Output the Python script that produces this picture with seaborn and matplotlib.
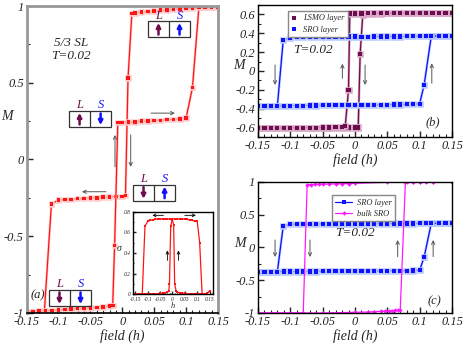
import matplotlib
matplotlib.use('Agg')
import matplotlib.pyplot as plt
import matplotlib.patheffects as pe
from matplotlib.patches import Rectangle
from matplotlib.ticker import MultipleLocator, FuncFormatter
import seaborn as sns

# -----------------------------
# Data: panel (a), total magnetisation loop
# -----------------------------
h_a_down = [0.15, 0.14, 0.13, 0.12, 0.11, 0.10, 0.09, 0.08, 0.07, 0.06, 0.05, 0.04, 0.03, 0.02, 0.015,
            0.009, 0.005, 0.0, -0.01, -0.02, -0.03, -0.04, -0.05, -0.06, -0.07, -0.08, -0.09, -0.10,
            -0.111, -0.122, -0.13, -0.14, -0.15]
m_a_down = [0.995, 0.995, 0.993, 0.99, 0.988, 0.985, 0.982, 0.978, 0.975, 0.972, 0.968, 0.965, 0.96, 0.955, 0.95,
            0.53, -0.235, -0.24, -0.24, -0.245, -0.245, -0.25, -0.25, -0.255, -0.255, -0.26, -0.26, -0.265,
            -0.29, -0.985, -0.99, -0.99, -0.99]

h_a_up = [-0.15, -0.14, -0.13, -0.12, -0.11, -0.10, -0.09, -0.08, -0.07, -0.06, -0.05, -0.04, -0.03, -0.02, -0.015,
          -0.012, -0.007, 0.0, 0.01, 0.02, 0.03, 0.04, 0.05, 0.06, 0.07, 0.08, 0.09, 0.10,
          0.11, 0.12, 0.13, 0.14, 0.15]
m_a_up = [-0.99, -0.99, -0.988, -0.985, -0.983, -0.98, -0.978, -0.975, -0.972, -0.97, -0.967, -0.963, -0.96, -0.955, -0.95,
          -0.56, 0.24, 0.24, 0.245, 0.245, 0.25, 0.25, 0.255, 0.255, 0.26, 0.26, 0.265, 0.27,
          0.47, 0.99, 0.993, 0.995, 0.995]

# inset: sigma vs h
sig_down = [0.03, 0.01, 0.005, 0.005, 0.005, 0.005, 0.005, 0.005, 0.005, 0.005, 0.01, 0.01, 0.015, 0.02, 0.03,
            0.1, 0.67, 0.72, 0.725, 0.73, 0.73, 0.73, 0.73, 0.73, 0.725, 0.72, 0.715, 0.705,
            0.66, 0.0, 0.0, 0.0, 0.0]
sig_up = [0.0, 0.0, 0.0, 0.0, 0.005, 0.005, 0.005, 0.005, 0.005, 0.005, 0.01, 0.01, 0.015, 0.02, 0.03,
          0.1, 0.66, 0.73, 0.73, 0.73, 0.73, 0.73, 0.725, 0.725, 0.72, 0.715, 0.71, 0.71,
          0.5, 0.0, 0.0, 0.01, 0.03]

# -----------------------------
# Data: panel (b), layer magnetisations
# -----------------------------
h_b_down = [0.15, 0.14, 0.13, 0.12, 0.11, 0.10, 0.09, 0.08, 0.07, 0.06, 0.05, 0.04, 0.03, 0.02, 0.012,
            0.008, 0.005, 0.0, -0.01, -0.02, -0.03, -0.04, -0.05, -0.06, -0.07, -0.08, -0.09, -0.10,
            -0.11, -0.12, -0.13, -0.14, -0.15]
lsmo_down = [0.615, 0.615, 0.615, 0.615, 0.614, 0.614, 0.613, 0.613, 0.612, 0.612, 0.611, 0.61, 0.61, 0.6, 0.59,
             0.18, -0.6, -0.6, -0.6, -0.601, -0.601, -0.602, -0.602, -0.603, -0.603, -0.604, -0.604, -0.604,
             -0.605, -0.605, -0.605, -0.605, -0.605]
h_b_up = [-0.15, -0.14, -0.13, -0.12, -0.11, -0.10, -0.09, -0.08, -0.07, -0.06, -0.05, -0.04, -0.03, -0.02, -0.015,
          -0.01, -0.008, 0.0, 0.01, 0.02, 0.03, 0.04, 0.05, 0.06, 0.07, 0.08, 0.09, 0.10,
          0.11, 0.12, 0.13, 0.14, 0.15]
lsmo_up = [-0.605, -0.605, -0.605, -0.604, -0.604, -0.603, -0.603, -0.602, -0.602, -0.601, -0.6, -0.6, -0.595, -0.59, -0.58,
           -0.2, 0.61, 0.61, 0.61, 0.612, 0.612, 0.613, 0.613, 0.614, 0.614, 0.614, 0.615, 0.615,
           0.615, 0.615, 0.615, 0.615, 0.615]

h_sro_down = [0.15, 0.14, 0.13, 0.12, 0.11, 0.10, 0.09, 0.08, 0.07, 0.06, 0.05, 0.04, 0.03, 0.02, 0.01, 0.0,
              -0.01, -0.02, -0.03, -0.04, -0.05, -0.06, -0.07, -0.08, -0.09, -0.10, -0.111, -0.12, -0.13, -0.14, -0.15]
sro_down = [0.37, 0.37, 0.37, 0.37, 0.368, 0.368, 0.367, 0.367, 0.366, 0.366, 0.365, 0.365, 0.365, 0.36, 0.36, 0.365,
            0.365, 0.36, 0.36, 0.36, 0.36, 0.358, 0.358, 0.357, 0.356, 0.355, 0.325, -0.37, -0.37, -0.37, -0.37]
h_sro_up = [-0.15, -0.14, -0.13, -0.12, -0.11, -0.10, -0.09, -0.08, -0.07, -0.06, -0.05, -0.04, -0.03, -0.02, -0.01, 0.0,
            0.01, 0.02, 0.03, 0.04, 0.05, 0.06, 0.07, 0.08, 0.09, 0.10, 0.107, 0.118, 0.13, 0.14, 0.15]
sro_up = [-0.37, -0.37, -0.37, -0.37, -0.368, -0.368, -0.367, -0.367, -0.366, -0.366, -0.365, -0.365, -0.36, -0.358, -0.358, -0.365,
          -0.365, -0.36, -0.36, -0.358, -0.358, -0.356, -0.355, -0.354, -0.352, -0.348, -0.145, 0.37, 0.37, 0.37, 0.37]

# -----------------------------
# Data: panel (c), bulk SRO
# -----------------------------
h_bulk_down = [0.15, 0.12, 0.11, 0.10, 0.09, 0.08, 0.05, 0.0, -0.01, -0.02, -0.03, -0.04, -0.05, -0.055, -0.062,
               -0.068, -0.074, -0.08, -0.15]
bulk_down = [1.0, 1.0, 1.0, 1.0, 1.0, 1.0, 0.995, 0.98, 0.975, 0.972, 0.97, 0.968, 0.965, 0.963, 0.962,
             0.96, 0.958, -1.0, -1.0]
h_bulk_up = [-0.15, -0.08, -0.05, 0.0, 0.02, 0.03, 0.04, 0.046, 0.052, 0.057, 0.062, 0.066, 0.07, 0.078, 0.09,
             0.10, 0.12, 0.15]
bulk_up = [-1.0, -1.0, -1.0, -0.99, -0.985, -0.98, -0.975, -0.97, -0.968, -0.965, -0.962, -0.958, -0.95, 1.0, 1.0,
           1.0, 1.0, 1.0]

RED = '#ff1414'
PURPLE = '#6e0d4e'
BLUE = '#1010ff'
MAGENTA = '#ff19ff'

sns.set_style("ticks")
plt.rcParams['font.family'] = ['Liberation Serif', 'DejaVu Serif']
plt.rcParams['font.style'] = 'italic'
plt.rcParams['axes.unicode_minus'] = False

fig = plt.figure(figsize=(4.63, 3.43), dpi=100)
ax_a = fig.add_axes([0.0573, 0.0875, 0.4136, 0.895])
ax_b = fig.add_axes([0.5572, 0.6006, 0.419, 0.385])
ax_c = fig.add_axes([0.5572, 0.0875, 0.419, 0.382])
ax_in = fig.add_axes([0.288, 0.142, 0.171, 0.241])

fmt = FuncFormatter(lambda v, p: ('%g' % round(v, 3)))


def style_axes(ax, xmaj, xmin, ymaj, ymin, size=9, frame='k'):
    ax.xaxis.set_major_locator(MultipleLocator(xmaj))
    ax.xaxis.set_minor_locator(MultipleLocator(xmin))
    ax.yaxis.set_major_locator(MultipleLocator(ymaj))
    ax.yaxis.set_minor_locator(MultipleLocator(ymin))
    ax.xaxis.set_major_formatter(fmt)
    ax.yaxis.set_major_formatter(fmt)
    ax.tick_params(which='both', direction='in', top=False, right=False, labelsize=size, pad=2)
    ax.tick_params(which='major', length=4, width=1)
    ax.tick_params(which='minor', length=2, width=0.8)
    for s in ax.spines.values():
        s.set_color(frame)
        s.set_linewidth(1.0)


def loop(ax, x, y, color, marker='s', ms=2.6, halo=None, label=None):
    kw = {}
    if halo:
        kw['path_effects'] = [pe.Stroke(linewidth=1.8, foreground=halo), pe.Normal()]
    sns.lineplot(x=x, y=y, ax=ax, sort=False, estimator=None, color=color, marker=marker,
                 markersize=ms, markeredgewidth=0, linewidth=0.9, label=label, legend=False, **kw)


def spin_box(ax, x0, y0, l_up, s_up, w=0.22, hgt=0.052):
    ax.add_patch(Rectangle((x0, y0), w, hgt, transform=ax.transAxes, fill=False,
                           edgecolor='#333333', lw=0.9, zorder=6))
    ax.plot([x0 + w / 2, x0 + w / 2], [y0, y0 + hgt], transform=ax.transAxes, color='#333333', lw=0.9, zorder=6)
    for i, (up, col, lab) in enumerate([(l_up, PURPLE, 'L'), (s_up, BLUE, 'S')]):
        cx = x0 + w / 4 + i * w / 2
        a, b = (y0 + 0.008, y0 + hgt - 0.006) if up else (y0 + hgt - 0.008, y0 + 0.006)
        ax.annotate('', xy=(cx, b), xytext=(cx, a), xycoords='axes fraction',
                    arrowprops=dict(arrowstyle='-|>', color=col, lw=1.8, mutation_scale=6,
                                    shrinkA=0, shrinkB=0), zorder=7)
        ax.text(cx, y0 + hgt + 0.018, lab, transform=ax.transAxes, color=col, fontsize=9,
                ha='center', va='center')


def thin_arrow(ax, x0, y0, x1, y1, lw=0.7, color='#555555', ms=6):
    ax.annotate('', xy=(x1, y1), xytext=(x0, y0), xycoords='axes fraction',
                arrowprops=dict(arrowstyle='->', color=color, lw=lw, mutation_scale=ms,
                                shrinkA=0, shrinkB=0))


# -----------------------------
# Panel (a)
# -----------------------------
loop(ax_a, h_a_down, m_a_down, RED, halo='#ffc8c8')
loop(ax_a, h_a_up, m_a_up, RED, halo='#ffc8c8')
ax_a.set_xlim(-0.15, 0.15)
ax_a.set_ylim(-1, 1)
style_axes(ax_a, 0.05, 0.01, 0.5, 0.25, frame='#999999')
for k in ['left', 'top', 'right']:
    ax_a.spines[k].set_linewidth(2)
ax_a.spines['bottom'].set_color('k')
ax_a.spines['bottom'].set_linewidth(1.2)
ax_a.set_xlabel('field (h)', fontsize=10, labelpad=1)
ax_a.set_ylabel('M', fontsize=10, rotation=0)
ax_a.yaxis.set_label_coords(-0.105, 0.62)
ax_a.text(0.232, 0.88, '5/3 SL', transform=ax_a.transAxes, fontsize=9.5, ha='center', va='center')
ax_a.text(0.232, 0.838, 'T=0.02', transform=ax_a.transAxes, fontsize=9.5, ha='center', va='center')
ax_a.text(0.06, 0.059, '(a)', transform=ax_a.transAxes, fontsize=9, ha='center', va='center')

spin_box(ax_a, 0.634, 0.899, True, True)
spin_box(ax_a, 0.222, 0.606, True, False)
spin_box(ax_a, 0.556, 0.366, False, True)
spin_box(ax_a, 0.117, 0.023, False, False)

thin_arrow(ax_a, 0.650, 0.651, 0.775, 0.651)
thin_arrow(ax_a, 0.415, 0.395, 0.289, 0.395)
thin_arrow(ax_a, 0.462, 0.476, 0.462, 0.580)
thin_arrow(ax_a, 0.544, 0.580, 0.544, 0.476)

# inset
loop(ax_in, h_a_down, sig_down, RED, ms=2.0)
loop(ax_in, h_a_up, sig_up, RED, ms=2.0)
ax_in.set_xlim(-0.158, 0.162)
ax_in.set_ylim(0, 0.8)
style_axes(ax_in, 0.05, 0.01, 0.2, 0.1, size=4)
ax_in.tick_params(which='major', length=2)
ax_in.tick_params(which='minor', length=1)
ax_in.set_xlabel('h', fontsize=6, labelpad=0)
ax_in.set_ylabel('σ', fontsize=7, rotation=0, labelpad=3)
ax_in.set_facecolor('white')
thin_arrow(ax_in, 0.38, 0.955, 0.24, 0.955, lw=0.6, color='k', ms=5)
thin_arrow(ax_in, 0.65, 0.955, 0.79, 0.955, lw=0.6, color='k', ms=5)
thin_arrow(ax_in, 0.43, 0.41, 0.43, 0.53, lw=0.6, color='k', ms=5)
thin_arrow(ax_in, 0.57, 0.41, 0.57, 0.53, lw=0.6, color='k', ms=5)

# -----------------------------
# Panel (b)
# -----------------------------
loop(ax_b, h_b_down, lsmo_down, PURPLE, ms=3.0, halo='#d8a8c8', label='LSMO layer')
loop(ax_b, h_b_up, lsmo_up, PURPLE, ms=3.0, halo='#d8a8c8')
loop(ax_b, h_sro_down, sro_down, BLUE, ms=3.0, halo='#b4c8ff', label='SRO layer')
loop(ax_b, h_sro_up, sro_up, BLUE, ms=3.0, halo='#b4c8ff')
ax_b.set_xlim(-0.15, 0.15)
ax_b.set_ylim(-0.7, 0.7)
style_axes(ax_b, 0.05, 0.01, 0.2, 0.1)
ax_b.set_xlabel('field (h)', fontsize=10, labelpad=1)
ax_b.set_ylabel('M', fontsize=10, rotation=0)
ax_b.yaxis.set_label_coords(-0.1, 0.49)
ax_b.text(0.284, 0.659, 'T=0.02', transform=ax_b.transAxes, fontsize=9.5, ha='center', va='center')
ax_b.text(0.902, 0.108, '(b)', transform=ax_b.transAxes, fontsize=9, ha='center', va='center')
hb, lb = ax_b.get_legend_handles_labels()
leg = ax_b.legend(hb, lb, loc='upper left', bbox_to_anchor=(0.135, 0.985), fontsize=6,
                  handlelength=0.6, handletextpad=0.8, borderpad=0.4, labelspacing=0.4,
                  fancybox=False, framealpha=1, edgecolor='#888888')
for line in leg.get_lines():
    line.set_linestyle('none')
    line.set_path_effects([])
thin_arrow(ax_b, 0.088, 0.545, 0.088, 0.394)
thin_arrow(ax_b, 0.435, 0.444, 0.435, 0.555)
thin_arrow(ax_b, 0.552, 0.545, 0.552, 0.394)
thin_arrow(ax_b, 0.896, 0.407, 0.896, 0.558)

# -----------------------------
# Panel (c)
# -----------------------------
loop(ax_c, h_sro_down, sro_down, BLUE, ms=3.0, halo='#b4c8ff', label='SRO layer')
loop(ax_c, h_sro_up, sro_up, BLUE, ms=3.0, halo='#b4c8ff')
loop(ax_c, h_bulk_down, bulk_down, MAGENTA, marker='D', ms=2.3, label='bulk SRO')
loop(ax_c, h_bulk_up, bulk_up, MAGENTA, marker='D', ms=2.3)
ax_c.set_xlim(-0.15, 0.15)
ax_c.set_ylim(-1, 1)
style_axes(ax_c, 0.05, 0.01, 0.5, 0.25)
ax_c.set_xlabel('field (h)', fontsize=10, labelpad=1)
ax_c.set_ylabel('M', fontsize=10, rotation=0)
ax_c.yaxis.set_label_coords(-0.093, 0.48)
ax_c.text(0.5, 0.61, 'T=0.02', transform=ax_c.transAxes, fontsize=9.5, ha='center', va='center')
ax_c.text(0.912, 0.092, '(c)', transform=ax_c.transAxes, fontsize=9, ha='center', va='center')
hc, lc = ax_c.get_legend_handles_labels()
leg = ax_c.legend(hc, lc, loc='upper left', bbox_to_anchor=(0.36, 0.93), fontsize=6,
                  handlelength=2.0, handletextpad=0.6, borderpad=0.4, labelspacing=0.4,
                  fancybox=False, framealpha=1, edgecolor='#888888')
for line in leg.get_lines():
    line.set_path_effects([])
thin_arrow(ax_c, 0.088, 0.557, 0.088, 0.427)
thin_arrow(ax_c, 0.268, 0.557, 0.268, 0.427)
thin_arrow(ax_c, 0.72, 0.43, 0.72, 0.557)
thin_arrow(ax_c, 0.903, 0.43, 0.903, 0.557)

fig.savefig('out.png', dpi=100)
